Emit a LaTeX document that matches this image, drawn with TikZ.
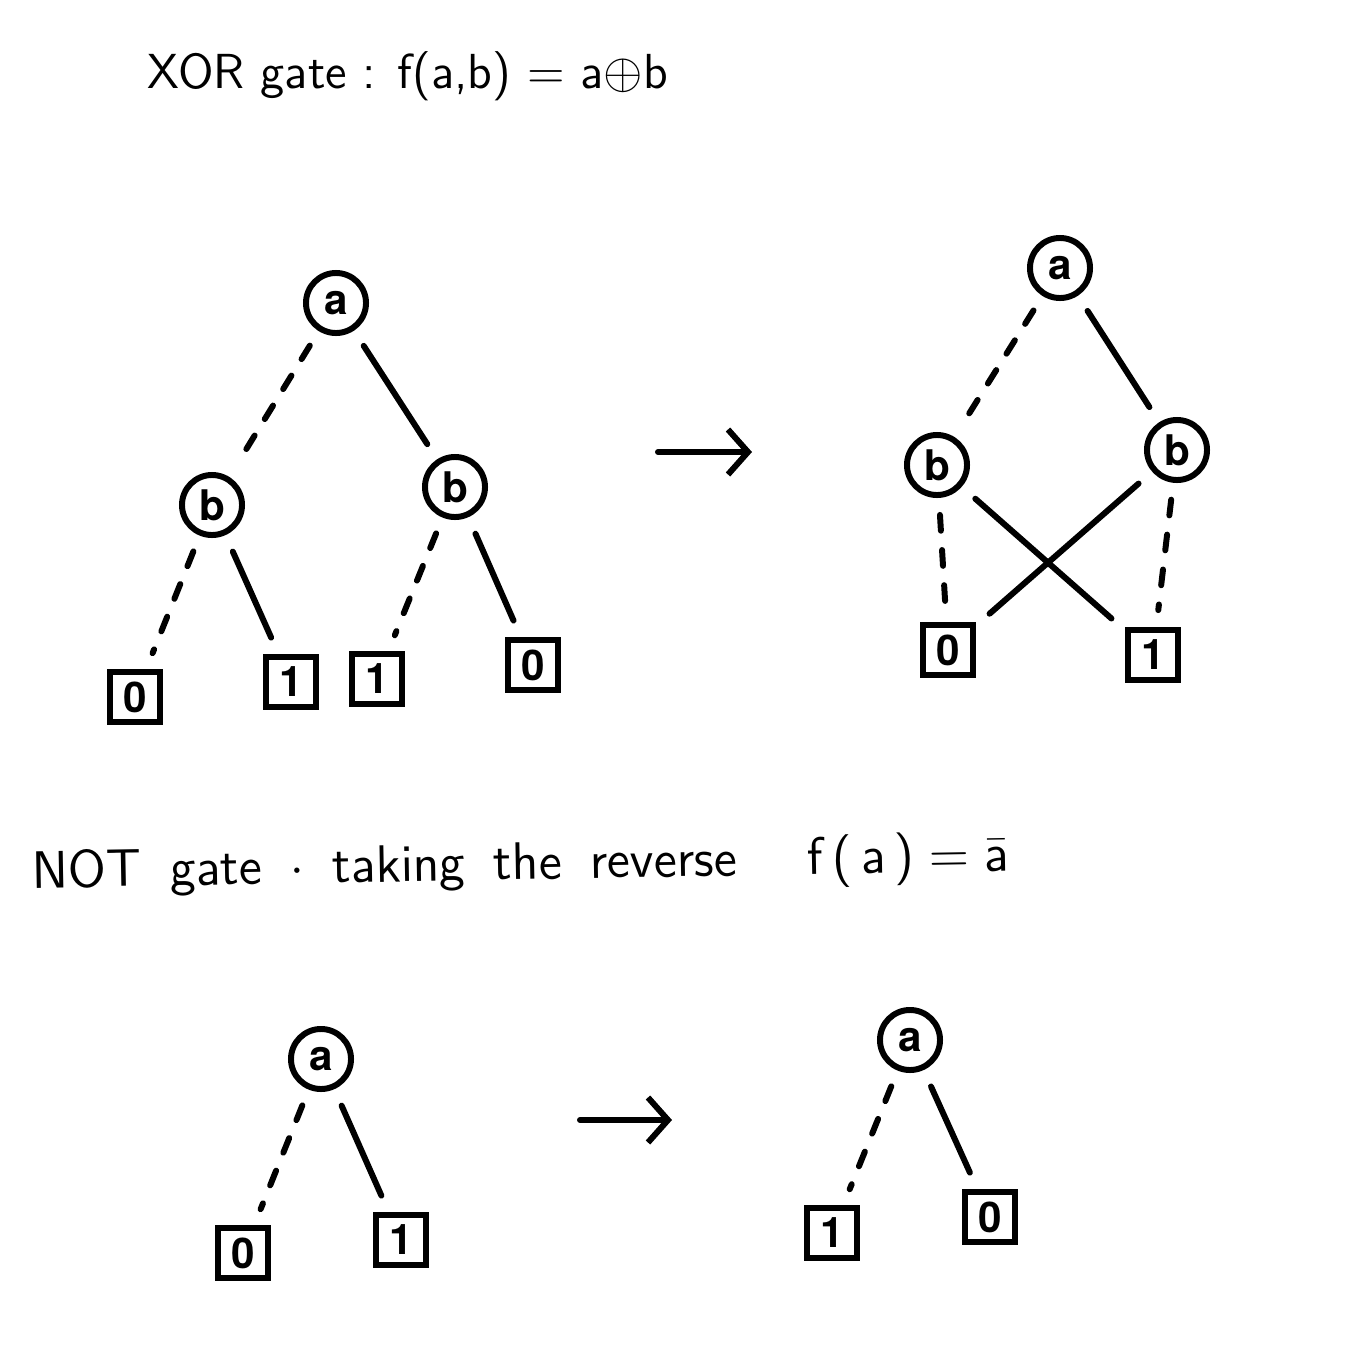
\documentclass[tikz,border=0pt]{standalone}
\usepackage{fontspec}
\newfontfamily\labelfont{TeX Gyre Heros}
\usetikzlibrary{arrows.meta}
\tikzset{
    varnode/.style={draw, circle, line width=1.7pt, minimum size=0.6cm,
        inner sep=0pt, font=\fontsize{12}{14}\selectfont\labelfont\bfseries},
    leafnode/.style={draw, rectangle, line width=1.7pt, minimum size=0.5cm,
        inner sep=0pt, font=\fontsize{12}{14}\selectfont\labelfont\bfseries},
    lowedge/.style={line width=1.7pt, line cap=round,
        dash pattern=on 4.5pt off 5.5pt, shorten <=0.17cm, shorten >=0.17cm},
    highedge/.style={line width=1.7pt, line cap=round, shorten <=0.18cm,
        shorten >=0.18cm},
    swaparrow/.style={line width=1.7pt, line cap=round,
        -{Straight Barb[length=0.2cm, width=0.45cm, line width=1.7pt]}},
    gatetitle/.style={anchor=base west, inner sep=0pt,
        font=\fontsize{14}{17}\selectfont\sffamily},
}
\begin{document}
\begin{tikzpicture}[x=0.01cm, y=-0.01cm]
        \useasboundingbox (0, 0) rectangle (1369, 1351);
        % XOR gate
        \node[gatetitle] (xortitle) at (147, 88)
            {XOR gate : f(a,b) = a$\oplus$b};
        \node[varnode] (xa) at (336, 303) {a};
        \node[varnode] (xbl) at (212, 505) {b};
        \node[varnode] (xbr) at (455, 487) {b};
        \node[leafnode] (xl0) at (135, 697) {0};
        \node[leafnode] (xl1) at (291, 682) {1};
        \node[leafnode] (xr1) at (377, 679) {1};
        \node[leafnode] (xr0) at (533, 665) {0};
        \draw[lowedge] (xa) -- (xbl);
        \draw[highedge] (xa) -- (xbr);
        \draw[lowedge] (xbl) -- (xl0);
        \draw[highedge] (xbl) -- (xl1);
        \draw[lowedge] (xbr) -- (xr1);
        \draw[highedge] (xbr) -- (xr0);
        \coordinate (xorfrom) at (658, 452);
        \coordinate (xorto) at (752, 452);
        \draw[swaparrow] (xorfrom) -- (xorto);
        \node[varnode] (ya) at (1060, 268) {a};
        \node[varnode] (ybl) at (937, 465) {b};
        \node[varnode] (ybr) at (1177, 450) {b};
        \node[leafnode] (y0) at (948, 650) {0};
        \node[leafnode] (y1) at (1153, 655) {1};
        \draw[lowedge] (ya) -- (ybl);
        \draw[highedge] (ya) -- (ybr);
        \draw[lowedge] (ybl) -- (y0);
        \draw[highedge] (ybl) -- (y1);
        \draw[lowedge] (ybr) -- (y1);
        \draw[highedge] (ybr) -- (y0);
        % NOT gate
        \node[gatetitle, rotate=1, font=\fontsize{15}{18}\selectfont\sffamily]
            (nottitle) at (32, 888) {\spaceskip=8pt NOT gate $\cdot$ taking
            the reverse\hspace{20pt}f\,(\,a\,)\;=\;$\bar{\mbox{a}}$};
        \node[varnode] (na) at (321, 1059) {a};
        \node[leafnode] (n0) at (243, 1253) {0};
        \node[leafnode] (n1) at (401, 1240) {1};
        \draw[lowedge] (na) -- (n0);
        \draw[highedge] (na) -- (n1);
        \coordinate (notfrom) at (580, 1120);
        \coordinate (notto) at (672, 1120);
        \draw[swaparrow] (notfrom) -- (notto);
        \node[varnode] (ma) at (910, 1040) {a};
        \node[leafnode] (m1) at (832, 1233) {1};
        \node[leafnode] (m0) at (990, 1217) {0};
        \draw[lowedge] (ma) -- (m1);
        \draw[highedge] (ma) -- (m0);
    \end{tikzpicture}
\end{document}
